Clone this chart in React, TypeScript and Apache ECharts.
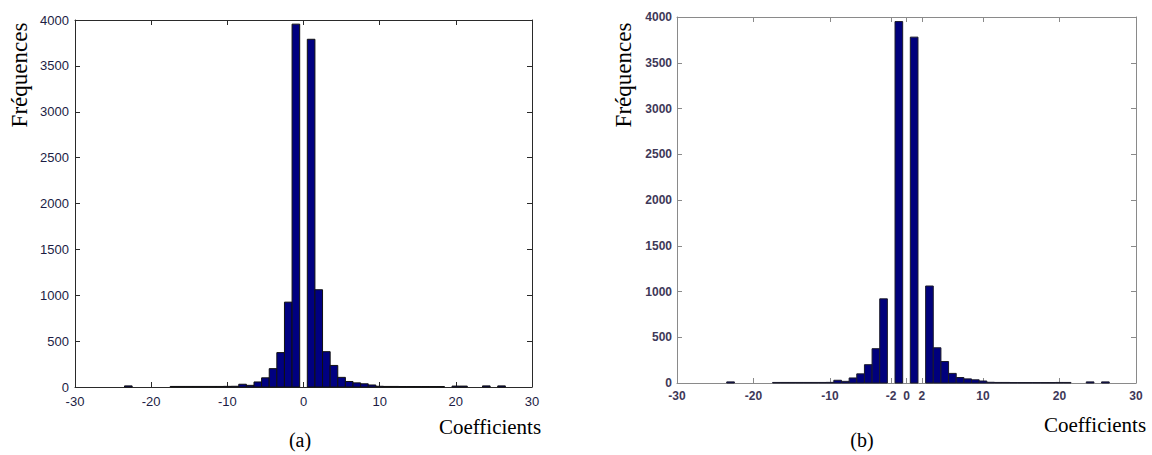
import React, { useEffect, useRef } from "react";
import * as echarts from "echarts";

// ---- Data (a) ----
const binsA = [-23, -17, -16, -15, -14, -13, -12, -11, -10, -9, -8, -7, -6, -5, -4, -3, -2, -1, 1, 2, 3, 4, 5, 6, 7, 8, 9, 10, 11, 12, 13, 14, 15, 16, 17, 18, 20, 21, 24, 26];
const countsA = [12, 6, 6, 6, 6, 6, 6, 6, 7, 8, 30, 18, 55, 100, 200, 375, 925, 3955, 3790, 1060, 385, 235, 105, 60, 45, 35, 22, 8, 6, 6, 5, 5, 5, 5, 5, 5, 10, 10, 12, 12];

// ---- Data (b) ----
const binsB = [-23, -17, -16, -15, -14, -13, -12, -11, -10, -9, -8, -7, -6, -5, -4, -3, -1, 1, 3, 4, 5, 6, 7, 8, 9, 10, 11, 12, 13, 14, 15, 16, 17, 18, 19, 20, 21, 24, 26];
const countsB = [12, 6, 6, 6, 6, 6, 6, 6, 7, 30, 18, 55, 100, 200, 375, 920, 3950, 3780, 1060, 385, 235, 105, 60, 45, 35, 22, 8, 6, 6, 5, 5, 5, 5, 5, 5, 6, 6, 12, 12];

const yTicks = [0, 500, 1000, 1500, 2000, 2500, 3000, 3500, 4000];
const xTicksA = [-30, -20, -10, 0, 10, 20, 30];
const xTicksB = [-30, -20, -10, -2, 0, 2, 10, 20, 30];

const xLabelText = "Coefficients";
const yLabelText = "Fréquences";
const captionA = "(a)";
const captionB = "(b)";

function makeRender(fill: string, stroke: string) {
  return (params: any, api: any) => {
    const x = api.value(0);
    const y = api.value(1);
    const p0 = api.coord([x - 0.5, y]);
    const p1 = api.coord([x + 0.5, 0]);
    return {
      type: "rect",
      shape: { x: p0[0], y: p0[1], width: p1[0] - p0[0], height: p1[1] - p0[1] },
      style: { fill, stroke, lineWidth: 1 },
    };
  };
}

const plain = (v: number) => String(v);

export default function App() {
  const ref = useRef<HTMLDivElement>(null);
  useEffect(() => {
    if (!ref.current) return;
    const chart = echarts.init(ref.current, undefined, { renderer: "svg" });

    const lineA = "#2a2a2a";
    const lineB = "#8a8a8a";
    const labA = { color: "#1c1c44", fontFamily: "Liberation Sans", fontSize: 13 };
    const labB = { color: "#3e3858", fontFamily: "Liberation Sans", fontSize: 12, fontWeight: "bold" as const };

    const xBase = (grid: number, ticks: number[], line: string, lab: any, margin: number, top: boolean) => ({
      type: "value",
      gridIndex: grid,
      position: top ? "top" : "bottom",
      min: -30,
      max: 30,
      splitLine: { show: false },
      axisLine: { show: true, onZero: false, lineStyle: { color: line, width: 1 } },
      axisTick: { show: true, inside: true, length: 5, customValues: ticks, lineStyle: { color: line } },
      axisLabel: { show: !top, customValues: ticks, margin, formatter: plain, ...lab },
    });
    const yBase = (grid: number, line: string, lab: any, margin: number, right: boolean) => ({
      type: "value",
      gridIndex: grid,
      position: right ? "right" : "left",
      min: 0,
      max: 4000,
      interval: 500,
      splitLine: { show: false },
      axisLine: { show: true, onZero: false, lineStyle: { color: line, width: 1 } },
      axisTick: { show: true, inside: true, length: 5, customValues: yTicks, lineStyle: { color: line } },
      axisLabel: { show: !right, margin, formatter: plain, customValues: yTicks, ...lab },
    });

    const option: any = {
      animation: false,
      backgroundColor: "#ffffff",
      grid: [
        { left: 75, top: 20, width: 457, height: 367 },
        { left: 677, top: 17, width: 459, height: 366 },
      ],
      xAxis: [
        xBase(0, xTicksA, lineA, labA, 8, false),
        xBase(0, xTicksA, lineA, labA, 8, true),
        xBase(1, xTicksB, lineB, labB, 7, false),
        xBase(1, xTicksB, lineB, labB, 7, true),
      ],
      yAxis: [
        yBase(0, lineA, labA, 6, false),
        yBase(0, lineA, labA, 6, true),
        yBase(1, lineB, labB, 5, false),
        yBase(1, lineB, labB, 5, true),
      ],
      series: [
        {
          type: "custom",
          xAxisIndex: 0,
          yAxisIndex: 0,
          encode: { x: 0, y: 1 },
          data: binsA.map((b, i) => [b, countsA[i]]),
          renderItem: makeRender("#000080", "#111111"),
        },
        {
          type: "custom",
          xAxisIndex: 2,
          yAxisIndex: 2,
          encode: { x: 0, y: 1 },
          data: binsB.map((b, i) => [b, countsB[i]]),
          renderItem: makeRender("#00007c", "#1a1a2a"),
        },
      ],
      graphic: [
        {
          type: "text",
          x: 19,
          y: 75,
          rotation: Math.PI / 2,
          style: { text: yLabelText, fill: "#000", font: "23px 'Liberation Serif'", align: "center", verticalAlign: "middle" },
        },
        {
          type: "text",
          x: 623,
          y: 75,
          rotation: Math.PI / 2,
          style: { text: yLabelText, fill: "#000", font: "23px 'Liberation Serif'", align: "center", verticalAlign: "middle" },
        },
        {
          type: "text",
          x: 490,
          y: 427,
          style: { text: xLabelText, fill: "#000", font: "21px 'Liberation Serif'", align: "center", verticalAlign: "middle" },
        },
        {
          type: "text",
          x: 1095,
          y: 425,
          style: { text: xLabelText, fill: "#000", font: "21px 'Liberation Serif'", align: "center", verticalAlign: "middle" },
        },
        {
          type: "text",
          x: 300,
          y: 440,
          style: { text: captionA, fill: "#000", font: "20px 'Liberation Serif'", align: "center", verticalAlign: "middle" },
        },
        {
          type: "text",
          x: 862,
          y: 440,
          style: { text: captionB, fill: "#000", font: "20px 'Liberation Serif'", align: "center", verticalAlign: "middle" },
        },
      ],
    };
    chart.setOption(option);
    return () => chart.dispose();
  }, []);
  return <div ref={ref} style={{ position: "fixed", left: 0, top: 0, width: 1152, height: 455 }} />;
}
